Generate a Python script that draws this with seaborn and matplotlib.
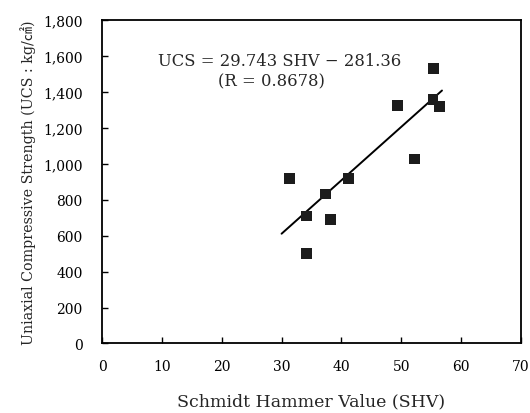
import matplotlib
matplotlib.use("Agg")
import matplotlib.pyplot as plt
import seaborn as sns
import numpy as np
import pandas as pd

# Schmidt hammer value vs uniaxial compressive strength
shv = [31.3, 34.2, 34.2, 37.3, 38.2, 41.2, 49.4, 52.2, 55.3, 55.4, 56.4]
ucs = [919, 710, 500, 832, 688, 920, 1325, 1027, 1357, 1530, 1320]

# regression line ends and coefficients
line_x = [30.0, 56.8]
slope, intercept = 29.743, -281.36

x_ticks = [0, 10, 20, 30, 40, 50, 60, 70]
y_ticks = [0, 200, 400, 600, 800, 1000, 1200, 1400, 1600, 1800]

sns.set_style("ticks")
plt.rcParams['font.family'] = ['DejaVu Serif', 'Noto Sans CJK JP']
plt.rcParams['xtick.direction'] = 'in'
plt.rcParams['ytick.direction'] = 'in'

df = pd.DataFrame({"SHV": shv, "UCS": ucs})
fit = pd.DataFrame({"SHV": line_x, "UCS": [slope * v + intercept for v in line_x]})

fig = plt.figure(figsize=(5.3, 4.14), dpi=100)
ax = fig.add_axes([0.1925, 0.168, 0.7905, 0.781])

sns.lineplot(data=fit, x="SHV", y="UCS", ax=ax, color="black", linewidth=1.4)
sns.scatterplot(data=df, x="SHV", y="UCS", ax=ax, marker="s", s=60,
                color="#1c1c1c", edgecolor="none", zorder=3)

ax.set_xlim(0, 70)
ax.set_ylim(0, 1800)
ax.set_xticks(x_ticks)
ax.set_yticks(y_ticks)
ax.set_yticklabels([f"{v:,}" for v in y_ticks])
ax.tick_params(axis='both', labelsize=10, length=4, width=1, colors='black')
ax.tick_params(axis='y', pad=14)
ax.tick_params(axis='x', pad=11)
for s in ax.spines.values():
    s.set_linewidth(1.3)
    s.set_color('black')

ax.set_xlabel("Schmidt Hammer Value (SHV)", fontsize=12.5, labelpad=14)
ax.set_ylabel("Uniaxial Compressive Strength (UCS : kg/㎠)", fontsize=10.3, labelpad=5)

ax.text(29.6, 1574, "UCS = 29.743 SHV \u2212 281.36", ha='center', va='center', fontsize=11.8)
ax.text(28.3, 1462, "(R = 0.8678)", ha='center', va='center', fontsize=11.8)

fig.savefig("out.png", dpi=100)
